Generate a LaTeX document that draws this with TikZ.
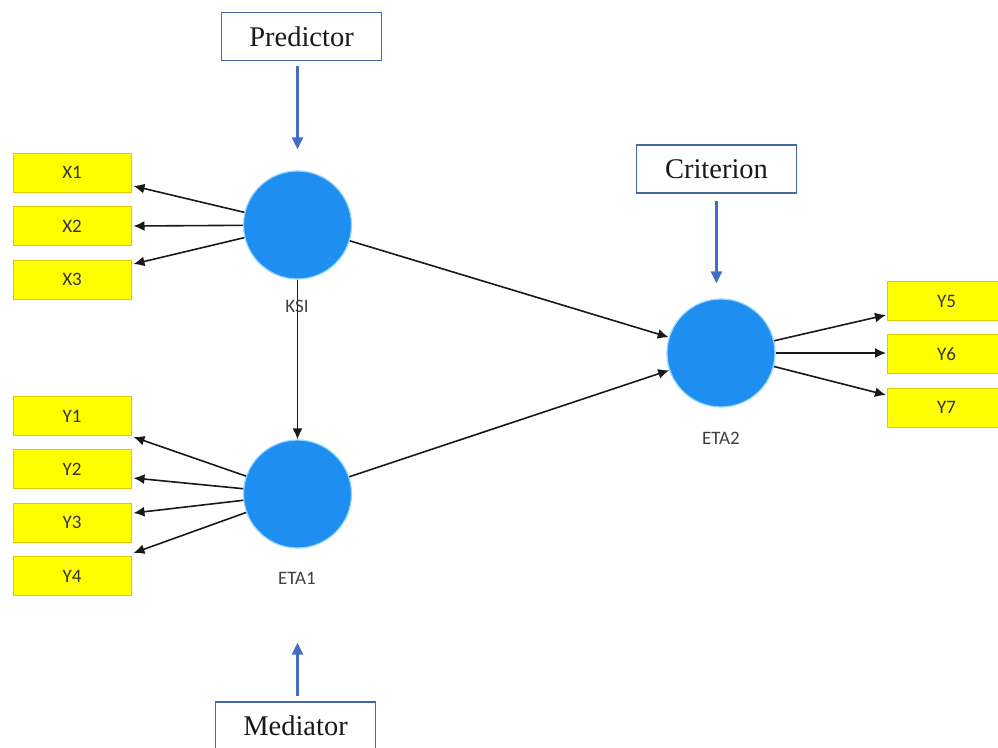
\documentclass[tikz,border=0pt]{standalone}
\usepackage{fontspec}
\setmainfont{Liberation Serif}
\newfontfamily\smallsans{Carlito}
\usetikzlibrary{arrows.meta,calc}

\definecolor{latentblue}{RGB}{30,142,240}
\definecolor{latentrim}{RGB}{150,215,255}
\definecolor{indyellow}{RGB}{255,255,0}
\definecolor{indrim}{RGB}{225,200,0}
\definecolor{rolerim}{RGB}{70,105,165}
\definecolor{rolearrow}{RGB}{68,110,200}
\definecolor{pathgray}{RGB}{25,25,25}

\tikzset{
  latent/.style={circle, fill=latentblue, draw=latentrim, line width=1.2pt,
                 minimum size=108pt, inner sep=0pt},
  indicator/.style={rectangle, fill=indyellow, draw=indrim, line width=1pt,
                    minimum width=118pt, minimum height=39pt, inner sep=0pt,
                    font=\smallsans\fontsize{19}{22}\selectfont, text=black!80},
  latentlabel/.style={font=\smallsans\fontsize{19}{22}\selectfont, text=black!75},
  rolebox/.style={rectangle, fill=white, draw=rolerim, line width=1.6pt,
                  minimum width=160pt, minimum height=48pt, inner sep=0pt,
                  font=\fontsize{28.5}{32}\selectfont, text=black!90},
  rolearr/.style={draw=rolearrow, line width=2.6pt,
                  -{Triangle[length=12pt,width=11pt]}},
  path/.style={draw=pathgray, line width=1.6pt,
               -{Latex[length=11pt,width=10pt]}}
}

\begin{document}
\begin{tikzpicture}[x=1pt,y=-1pt]
  \useasboundingbox[fill=white] (0,0) rectangle (998,747);

  % latent variables
  \node[latent] (ksi)  at (297.5,225) {};
  \node[latent] (eta1) at (297.5,494) {};
  \node[latent] (eta2) at (721,353)   {};

  % structural path KSI -> ETA1 (drawn before its label)
  \draw[path] (ksi) -- (eta1);

  \node[latentlabel] (ksil)  at (297,306) {KSI};
  \node[latentlabel] (eta1l) at (297,578) {ETA1};
  \node[latentlabel] (eta2l) at (721,438) {ETA2};

  % indicators of KSI
  \node[indicator] (x1) at (72,172.5) {X1};
  \node[indicator] (x2) at (72,226)   {X2};
  \node[indicator] (x3) at (72,279.5) {X3};

  % indicators of ETA1
  \node[indicator] (y1) at (72,416)   {Y1};
  \node[indicator] (y2) at (72,469)   {Y2};
  \node[indicator] (y3) at (72,522.5) {Y3};
  \node[indicator] (y4) at (72,576)   {Y4};

  % indicators of ETA2
  \node[indicator] (y5) at (946.5,301)   {Y5};
  \node[indicator] (y6) at (946.5,354)   {Y6};
  \node[indicator] (y7) at (946.5,407.5) {Y7};

  % role boxes
  \node[rolebox] (pred) at (301.5,36.5) {Predictor};
  \node[rolebox] (crit) at (716.5,169)  {Criterion};
  \node[rolebox] (med)  at (295.5,726)  {Mediator};

  % outer loadings
  \draw[path] (ksi) -- ($(x1.east)+(2,13.5)$);
  \draw[path] (ksi) -- ($(x2.east)+(2,0)$);
  \draw[path] (ksi) -- ($(x3.east)+(2,-15.5)$);

  \draw[path] (eta1) -- ($(y1.east)+(2,21)$);
  \draw[path] (eta1) -- ($(y2.east)+(2,9)$);
  \draw[path] (eta1) -- ($(y3.east)+(2,-9.5)$);
  \draw[path] (eta1) -- ($(y4.east)+(2,-23)$);

  \draw[path] (eta2) -- ($(y5.west)+(-1,14)$);
  \draw[path] (eta2) -- ($(y6.west)+(-1,-1)$);
  \draw[path] (eta2) -- ($(y7.west)+(-1,-12.5)$);

  % structural paths to ETA2
  \draw[path] (ksi)  -- (eta2);
  \draw[path] (eta1) -- (eta2);

  % role arrows
  \draw[rolearr, shorten <=5pt, shorten >=21pt] (pred.south -| ksi.north) -- (ksi.north);
  \draw[rolearr, shorten <=7pt, shorten >=15pt] (crit.south) -- (crit.south |- eta2.north);
  \draw[rolearr, shorten <=5pt, shorten >=94pt] (med.north -| eta1.south) -- (eta1.south);
\end{tikzpicture}
\end{document}
